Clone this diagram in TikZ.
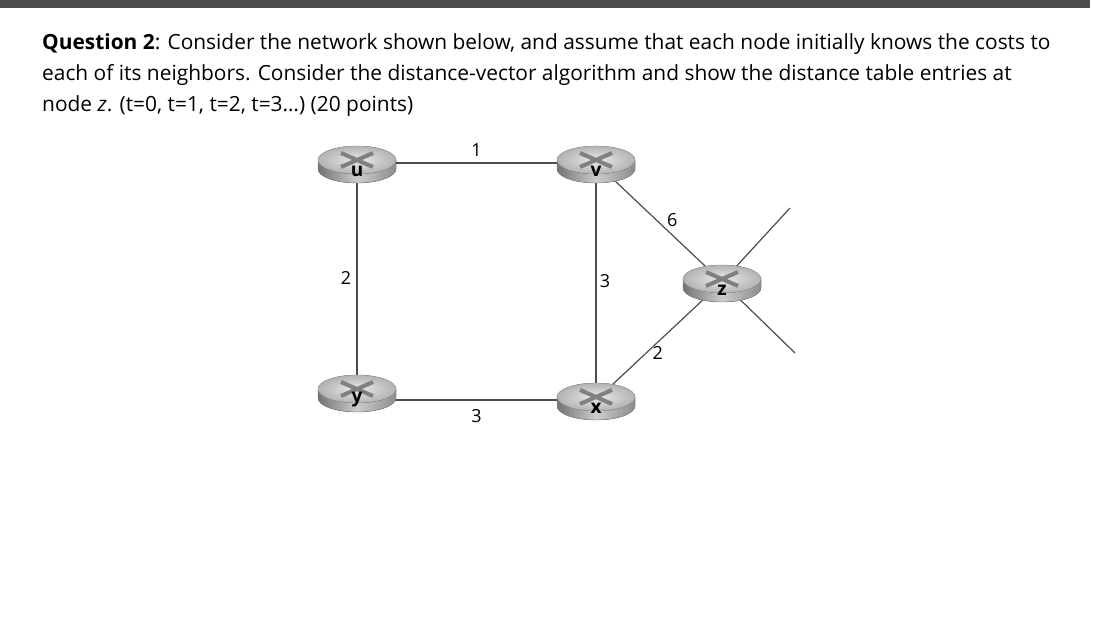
\documentclass[tikz,border=0pt]{standalone}
\usepackage{fontspec}
\setmainfont{Open Sans}
\begin{document}
\begin{tikzpicture}[x=1pt,y=1pt,
  link/.style={draw=black!70,line width=1.2pt},
  lbl/.style={font=\fontsize{18}{18}\selectfont},
  rlab/.style={font=\fontsize{19}{19}\selectfont\bfseries}]
\useasboundingbox (0,0) rectangle (1094,620);
\fill[black!70] (0,612) rectangle (1090,620);
\node[anchor=north west,font=\fontsize{20.9}{31}\selectfont,align=left,inner sep=0] (q) at (42,587)
{\textbf{Question 2}: Consider the network shown below, and assume that each node initially knows the costs to\\ each of its neighbors. Consider the distance-vector algorithm and show the distance table entries at\\ node \textit{z}. (t=0, t=1, t=2, t=3\dots) (20 points)};
\coordinate (u) at (357,457);
\coordinate (v) at (596,457);
\coordinate (y) at (357,228);
\coordinate (x) at (596,220);
\coordinate (z) at (722,338);
\coordinate (z1) at (790,412);
\coordinate (z2) at (795,267);
\coordinate (ya) at (357,220);
\draw[link] (u) -- node[lbl,above=3pt]{1} (v);
\draw[link] (u) -- node[lbl,left=2pt]{2} (y);
\draw[link] (v) -- node[lbl,right=0pt]{3} (x);
\draw[link] (ya) -- node[lbl,below=6pt]{3} (x);
\draw[link] (v) -- node[lbl,pos=0.55,above right=-2pt]{6} (z);
\draw[link] (x) -- node[lbl,pos=0.45,below right=-4pt]{2} (z);
\draw[link] (z) -- (z1);
\draw[link] (z) -- (z2);
\foreach \n/\t in {u/u,v/v,y/y,x/x,z/z}{
  \begin{scope}[shift={(\n)}]
  \fill[left color=black!55,right color=black!45,middle color=black!20]
    (-39,3) -- (-39,-6) arc[start angle=180,end angle=360,x radius=39,y radius=14] -- (39,3) -- cycle;
  \draw[black!50,line width=0.4pt] (-39,3) -- (-39,-6) arc[start angle=180,end angle=360,x radius=39,y radius=14] -- (39,3);
  \fill[inner color=black!8,outer color=black!30] (0,3) ellipse[x radius=39,y radius=14];
  \draw[black!40,line width=0.4pt] (0,3) ellipse[x radius=39,y radius=14];
  \draw[black!50,line width=4pt] (-16,10) -- (16,-4) (-16,-4) -- (16,10);
  \node[rlab,inner sep=0] at (0,-8) {\t};
  \end{scope}}
\end{tikzpicture}
\end{document}
